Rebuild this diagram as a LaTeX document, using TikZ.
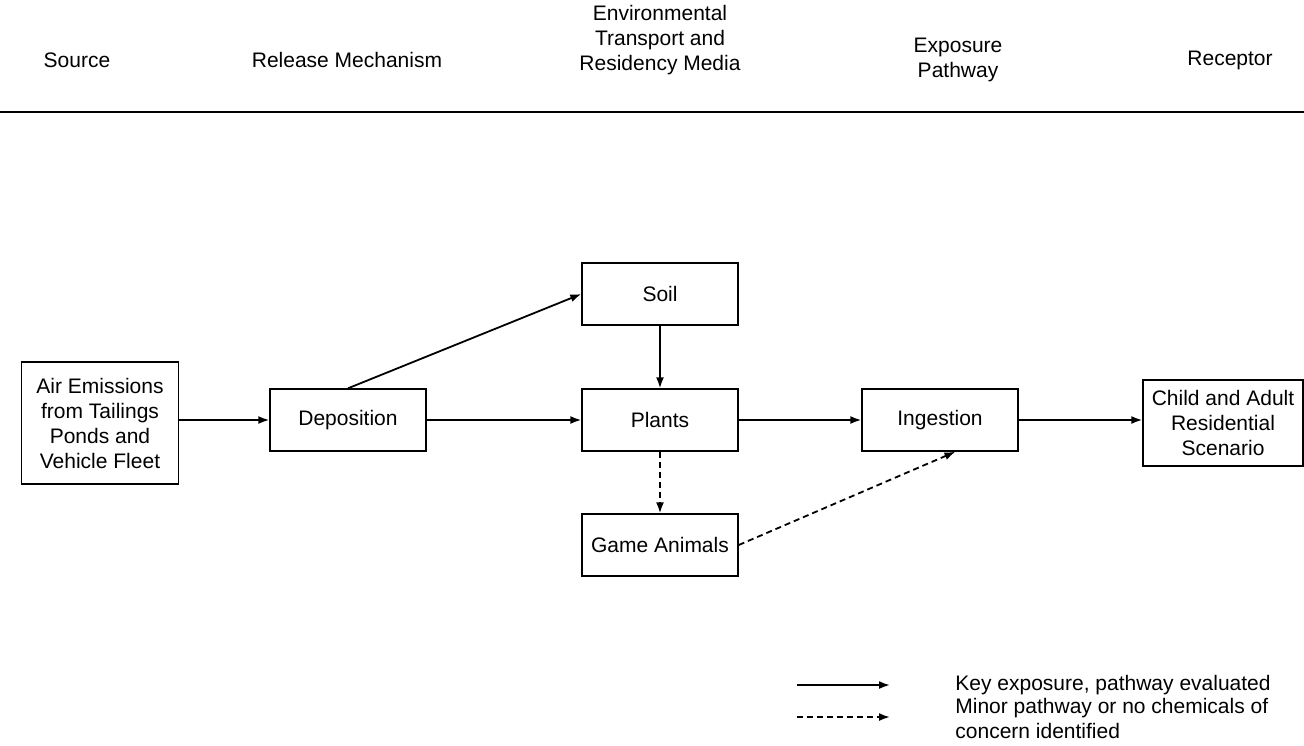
\documentclass[tikz,border=0pt]{standalone}
\usepackage{fontspec}
\setmainfont{Liberation Sans}
\usetikzlibrary{arrows.meta}

\tikzset{
    box/.style={draw, line width=0.7pt, align=center, minimum width=78pt, minimum height=31pt, inner sep=2pt},
    flow/.style={line width=0.9pt, -{Latex[length=5.5pt,width=4pt]}},
    minor/.style={flow, dash pattern=on 3pt off 2pt},
    head/.style={align=center}
}

\begin{document}
\begin{tikzpicture}[x=0.5pt, y=-0.5pt, font=\fontsize{10.5}{12.5}\selectfont]
    \useasboundingbox (0,0) rectangle (1304,745);
    % Column headings
    \node[head] (hsrc) at (77,60) {Source};
    \node[head] (hrel) at (347,60) {Release Mechanism};
    \node[head] (hmed) at (660,40) {Environmental\\Transport and\\Residency Media};
    \node[head] (hexp) at (958,60) {Exposure\\Pathway};
    \node[head] (hrec) at (1230,60) {Receptor};
    \draw[line width=0.9pt] (0,112) -- (1304,112);
    % Boxes
    \node[box, minimum width=78.5pt, minimum height=61pt] (src) at (100,423) {Air Emissions\\from Tailings\\Ponds and\\Vehicle Fleet};
    \node[box] (dep) at (348,420) {Deposition};
    \node[box] (soil) at (660,294) {Soil};
    \node[box] (plants) at (660,420) {Plants};
    \node[box] (game) at (660,545) {Game Animals};
    \node[box] (ing) at (940,420) {Ingestion};
    \node[box, minimum width=80pt, minimum height=43pt] (rec) at (1223,423) {Child and Adult\\Residential\\Scenario};
    % Pathways
    \draw[flow] (src.east |- dep.west) -- (dep.west);
    \draw[flow] (dep.north) -- (soil.west);
    \draw[flow] (dep) -- (plants);
    \draw[flow] (soil) -- (plants);
    \draw[flow] (plants) -- (ing);
    \draw[flow] (ing.east) -- (ing.east -| rec.west);
    \draw[minor] (plants) -- (game);
    \draw[minor] (game.east) -- (ing.-64);
    % Legend
    \coordinate (k1a) at (797,685);
    \coordinate (k1b) at (890,685);
    \coordinate (k2a) at (797,717);
    \coordinate (k2b) at (890,717);
    \draw[flow] (k1a) -- (k1b);
    \draw[minor] (k2a) -- (k2b);
    \node[anchor=west, inner sep=0pt] (key1) at (955,685) {Key exposure, pathway evaluated};
    \node[anchor=west, inner sep=0pt, align=left] (key2) at (955,718) {Minor pathway or no chemicals of\\concern identified};
\end{tikzpicture}
\end{document}
